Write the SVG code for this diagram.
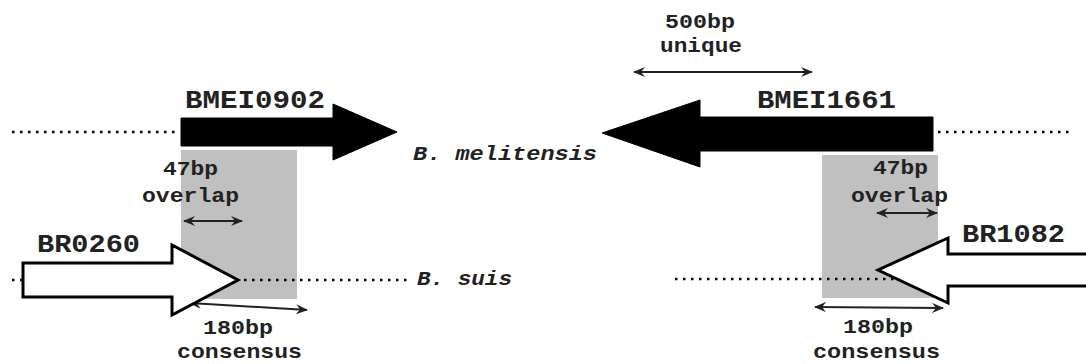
<svg xmlns="http://www.w3.org/2000/svg" width="1086" height="364" viewBox="0 0 1086 364">
<style>
.dot{stroke:#000;stroke-width:2.5;stroke-dasharray:2.5 5.5;fill:none}
.shade{fill:#c0c0c0}
.solid{fill:#000;stroke:#000;stroke-width:1}
.hollow{fill:#fff;stroke:#000;stroke-width:3;stroke-linejoin:miter}
.gene{font-family:"Liberation Mono","Courier New",monospace;font-weight:bold;font-size:26px;fill:#222}
.lbl{font-family:"Liberation Mono","Courier New",monospace;font-weight:bold;font-size:21px;fill:#222}
.sp{font-family:"Liberation Mono","Courier New",monospace;font-weight:bold;font-style:italic;font-size:21px;fill:#222}
.dim{stroke:#222;stroke-width:2;fill:none;marker-start:url(#ah);marker-end:url(#ah)}
</style>
<defs>
<marker id="ah" viewBox="0 0 12 10" refX="11" refY="5" markerWidth="12" markerHeight="10" markerUnits="userSpaceOnUse" orient="auto-start-reverse">
<path d="M0,0 L12,5 L0,10 L4,5 Z" fill="#222"/>
</marker>
</defs>
<g id="shading">
<rect class="shade" x="181" y="150" width="116" height="149"/>
<rect class="shade" x="822" y="155" width="116" height="143"/>
</g>
<g id="connectors">
<line class="dot" x1="12" y1="132" x2="178" y2="132"/>
<line class="dot" x1="938" y1="132" x2="1072" y2="132"/>
<line class="dot" x1="12" y1="280" x2="412" y2="280"/>
<line class="dot" x1="675" y1="279" x2="960" y2="279"/>
<line class="dim" x1="634" y1="72" x2="812" y2="72"/>
<line class="dim" x1="184" y1="221" x2="242" y2="221"/>
<line class="dim" x1="877" y1="213" x2="937" y2="213"/>
<line class="dim" x1="190" y1="303" x2="307" y2="310"/>
<line class="dim" x1="815" y1="307" x2="943" y2="308"/>
</g>
<g id="BMEI0902">
<polygon class="solid" points="181,118 333,118 333,104 397,132 333,160 333,146 181,146"/>
<text class="gene" x="185" y="108" textLength="140" lengthAdjust="spacingAndGlyphs">BMEI0902</text>
</g>
<g id="BMEI1661">
<polygon class="solid" points="933,117 700,117 700,100 602,133 700,167 700,151 933,151"/>
<text class="gene" x="757" y="108" textLength="139" lengthAdjust="spacingAndGlyphs">BMEI1661</text>
</g>
<g id="BR0260">
<polygon class="hollow" points="23,263 172,263 172,245 238,280 172,315 172,297 23,297"/>
<text class="gene" x="37" y="252" textLength="103" lengthAdjust="spacingAndGlyphs">BR0260</text>
</g>
<g id="BR1082">
<polygon class="hollow" points="1090,254 948,254 948,238 878,270 948,303 948,286 1090,286"/>
<text class="gene" x="962" y="242" textLength="103" lengthAdjust="spacingAndGlyphs">BR1082</text>
</g>
<g id="labels">
<text class="lbl" x="665" y="28" textLength="70" lengthAdjust="spacingAndGlyphs">500bp</text>
<text class="lbl" x="660" y="52" textLength="82" lengthAdjust="spacingAndGlyphs">unique</text>
<text class="sp" x="413" y="160" textLength="184" lengthAdjust="spacingAndGlyphs">B. melitensis</text>
<text class="sp" x="417" y="285" textLength="95" lengthAdjust="spacingAndGlyphs">B. suis</text>
<text class="lbl" x="163" y="175" textLength="55" lengthAdjust="spacingAndGlyphs">47bp</text>
<text class="lbl" x="142" y="202" textLength="97" lengthAdjust="spacingAndGlyphs">overlap</text>
<text class="lbl" x="873" y="174" textLength="55" lengthAdjust="spacingAndGlyphs">47bp</text>
<text class="lbl" x="851" y="202" textLength="97" lengthAdjust="spacingAndGlyphs">overlap</text>
<text class="lbl" x="203" y="334" textLength="70" lengthAdjust="spacingAndGlyphs">180bp</text>
<text class="lbl" x="177" y="358" textLength="125" lengthAdjust="spacingAndGlyphs">consensus</text>
<text class="lbl" x="843" y="333" textLength="70" lengthAdjust="spacingAndGlyphs">180bp</text>
<text class="lbl" x="813" y="358" textLength="127" lengthAdjust="spacingAndGlyphs">consensus</text>
</g>
</svg>
